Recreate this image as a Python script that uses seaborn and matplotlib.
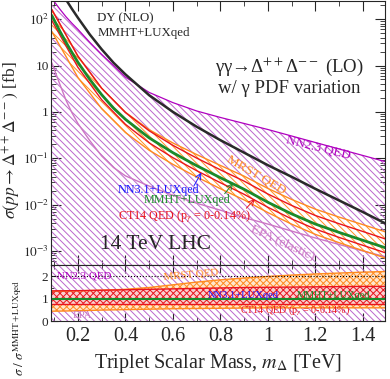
import numpy as np
import pandas as pd
import seaborn as sns
import matplotlib.pyplot as plt
from matplotlib.ticker import MultipleLocator, LogLocator, NullFormatter, FixedLocator

# ---- data ----
mass = [0.09, 0.1, 0.125, 0.15, 0.175, 0.2, 0.25, 0.3, 0.35, 0.4, 0.5, 0.6,
        0.7, 0.8, 0.9, 1.0, 1.1, 1.2, 1.3, 1.4, 1.5]
# log10(sigma / fb)
mmht_log = [2.08, 1.98, 1.73, 1.50, 1.28, 1.07, 0.70, 0.37, 0.08, -0.16, -0.56, -0.88,
            -1.16, -1.42, -1.67, -1.95, -2.20, -2.42, -2.60, -2.77, -2.94]
dy_log = [2.95, 2.85, 2.65, 2.42, 2.22, 2.03, 1.67, 1.35, 1.06, 0.81, 0.36, 0.0,
          -0.32, -0.61, -0.88, -1.15, -1.40, -1.66, -1.91, -2.16, -2.42]
nn23_up_log = [2.45, 2.38, 2.21, 2.05, 1.91, 1.78, 1.50, 1.24, 1.0, 0.75, 0.42, 0.2,
               0.02, -0.12, -0.25, -0.38, -0.52, -0.66, -0.80, -0.94, -1.08]
epa_log = [1.06, 0.92, 0.58, 0.25, -0.02, -0.25, -0.62, -0.95, -1.2, -1.38, -1.6, -1.8,
           -1.97, -2.12, -2.28, -2.42, -2.57, -2.72, -2.86, -3.0, -3.13]

# ratios to MMHT+LUXqed
rmass = [0.09, 0.2, 0.3, 0.4, 0.5, 0.6, 0.7, 0.8, 0.9, 1.0, 1.1, 1.2, 1.3, 1.4, 1.5]
mrst_lo = [0.45, 0.47, 0.5, 0.52, 0.54, 0.56, 0.57, 0.58, 0.59, 0.6, 0.6, 0.6, 0.6, 0.6, 0.6]
mrst_hi = [1.33, 1.35, 1.38, 1.42, 1.50, 1.62, 1.74, 1.84, 1.92, 1.99, 2.05, 2.10, 2.14, 2.18, 2.21]
ct14_lo = [0.78] * 15
ct14_hi = [1.35, 1.36, 1.38, 1.40, 1.42, 1.44, 1.46, 1.48, 1.50, 1.51, 1.52, 1.53, 1.54, 1.55, 1.55]
mmht_lo = [0.96] * 15
mmht_hi = [1.04] * 15

sns.set_style("ticks")
plt.rcParams['font.family'] = ['Liberation Serif', 'DejaVu Serif']
plt.rcParams['mathtext.fontset'] = 'stix'
plt.rcParams['hatch.linewidth'] = 0.7
plt.rcParams['xtick.direction'] = 'in'
plt.rcParams['ytick.direction'] = 'in'

PURPLE = '#b000c0'
HATCH_P = '#bb66cc'
ORANGE = '#ff8a1f'
RED = '#e8141e'
GREEN = '#1a8a2a'
BLUE = '#1a1aff'
PINK = '#cc77c4'

df = pd.DataFrame({'m': mass, 'mmht': np.power(10, mmht_log), 'dy': np.power(10, dy_log),
                   'nn23': np.power(10, nn23_up_log), 'epa': np.power(10, epa_log)})
rdf = pd.DataFrame({'m': rmass, 'mrst_lo': mrst_lo, 'mrst_hi': mrst_hi,
                    'ct14_lo': ct14_lo, 'ct14_hi': ct14_hi,
                    'mmht_lo': mmht_lo, 'mmht_hi': mmht_hi})
central_r = np.power(10, np.interp(rdf['m'], df['m'], mmht_log))
for k in ['mrst_lo', 'mrst_hi', 'ct14_lo', 'ct14_hi']:
    rdf[k + '_abs'] = rdf[k] * central_r

fig = plt.figure(figsize=(3.9, 3.79), dpi=100)
ax = fig.add_axes([0.131, 0.301, 0.856, 0.696])
axr = fig.add_axes([0.131, 0.152, 0.856, 0.149], sharex=ax)

# ---------- top panel ----------
ax.fill_between(df['m'], 1e-6, df['nn23'], facecolor='none', edgecolor=HATCH_P,
                hatch='\\\\\\\\\\', linewidth=0)
sns.lineplot(data=df, x='m', y='nn23', ax=ax, color=PURPLE, lw=0.9)
sns.lineplot(data=df, x='m', y='epa', ax=ax, color=PINK, lw=1.0)
ax.fill_between(rdf['m'], rdf['mrst_lo_abs'], rdf['mrst_hi_abs'], facecolor='white',
                edgecolor=ORANGE, hatch='\\\\\\\\\\', linewidth=0)
for k, c in [('mrst_lo_abs', ORANGE), ('mrst_hi_abs', ORANGE),
             ('ct14_lo_abs', RED), ('ct14_hi_abs', RED)]:
    sns.lineplot(data=rdf, x='m', y=k, ax=ax, color=c, lw=1.0)
sns.lineplot(data=df, x='m', y='mmht', ax=ax, color=GREEN, lw=2.0)
sns.lineplot(data=df, x='m', y='dy', ax=ax, color='#2a2a2a', lw=1.8)

ax.set_yscale('log')
ax.set_xlim(0.087, 1.493)
ax.set_ylim(5e-4, 245)
ax.yaxis.set_major_locator(FixedLocator([1e-3, 1e-2, 1e-1, 1, 10, 100]))
ax.set_yticklabels([r'$10^{-3}$', r'$10^{-2}$', r'$10^{-1}$', '1', '10', r'$10^{2}$'])
ax.yaxis.set_minor_locator(LogLocator(base=10, subs=np.arange(2, 10), numticks=20))
ax.yaxis.set_minor_formatter(NullFormatter())
ax.tick_params(axis='both', which='both', top=True, right=True, labelbottom=False)
ax.tick_params(axis='y', which='major', length=7, labelsize=9.5, pad=1.5)
ax.tick_params(axis='y', which='minor', length=3.5)
ax.tick_params(axis='x', which='major', length=7)
ax.tick_params(axis='x', which='minor', length=3.5)
ax.set_xlabel('')
ax.set_ylabel('')

ax.text(0.138, 0.936, 'DY (NLO)', transform=ax.transAxes, fontsize=9.3, va='center')
ax.text(0.138, 0.879, 'MMHT+LUXqed', transform=ax.transAxes, fontsize=9.3, va='center')
ax.text(0.713, 0.75, 'γγ→Δ$^{++}$Δ$^{--}$ (LO)', transform=ax.transAxes, fontsize=13.5,
        ha='center', va='center')
ax.text(0.713, 0.667, 'w/ γ PDF variation', transform=ax.transAxes, fontsize=13.5,
        ha='center', va='center')
ax.text(0.80, 0.443, 'NN2.3 QED', transform=ax.transAxes, fontsize=9.5, color=PURPLE,
        ha='center', va='center', rotation=-14)
ax.text(0.614, 0.34, 'MRST QED', transform=ax.transAxes, fontsize=9.5, color=ORANGE,
        ha='center', va='center', rotation=-30)
ax.text(0.20, 0.285, 'NN3.1+LUXqed', transform=ax.transAxes, fontsize=8.7, color=BLUE, va='center')
ax.text(0.278, 0.246, 'MMHT+LUXqed', transform=ax.transAxes, fontsize=8.7, color=GREEN, va='center')
ax.text(0.20, 0.182, 'CT14 QED (p$_{\\gamma}$ = 0-0.14%)', transform=ax.transAxes, fontsize=8.7,
        color=RED, va='center')
ax.text(0.147, 0.077, '14 TeV LHC', transform=ax.transAxes, fontsize=15.5, va='center')
ax.text(0.695, 0.085, 'EPA (elastic)', transform=ax.transAxes, fontsize=9.5, color=PINK,
        ha='center', va='center', rotation=-25)
for (x0, y0), (x1, y1), c in [((0.428, 0.30), (0.45, 0.35), BLUE),
                              ((0.52, 0.27), (0.545, 0.31), GREEN),
                              ((0.585, 0.215), (0.61, 0.25), RED)]:
    ax.annotate('', xy=(x1, y1), xytext=(x0, y0), xycoords='axes fraction',
                arrowprops=dict(arrowstyle='->', color=c, lw=0.7, shrinkA=0, shrinkB=0))

# ---------- ratio panel ----------
axr.fill_between([0.0, 2.0], 0, 3, facecolor='none', edgecolor=HATCH_P,
                 hatch='\\\\\\\\\\', linewidth=0)
axr.fill_between(rdf['m'], rdf['mrst_lo'], rdf['mrst_hi'], facecolor='#ffe6cc',
                 edgecolor=ORANGE, hatch='xxxxx', linewidth=0)
axr.fill_between(rdf['m'], rdf['ct14_lo'], rdf['ct14_hi'], facecolor='#fad0d0',
                 edgecolor=RED, hatch='xxxxx', linewidth=0)
for k, c in [('mrst_lo', ORANGE), ('mrst_hi', ORANGE), ('ct14_lo', RED), ('ct14_hi', RED)]:
    sns.lineplot(data=rdf, x='m', y=k, ax=axr, color=c, lw=1.0)
axr.fill_between(rdf['m'], rdf['mmht_lo'], rdf['mmht_hi'], color='#8fd08f', linewidth=0)
axr.axhline(1.0, color=GREEN, lw=1.5)
axr.axhline(2.0, color='black', lw=0.8, ls=':')

axr.set_ylim(0, 2.5)
axr.set_xlim(0.087, 1.493)
axr.xaxis.set_minor_locator(MultipleLocator(0.1))
axr.yaxis.set_major_locator(FixedLocator([0, 1, 2]))
axr.yaxis.set_minor_locator(MultipleLocator(0.5))
axr.set_xticks([0.2, 0.4, 0.6, 0.8, 1.0, 1.2, 1.4])
axr.set_xticklabels(['0.2', '0.4', '0.6', '0.8', '1', '1.2', '1.4'])
axr.tick_params(axis='both', which='both', top=True, right=True)
axr.tick_params(axis='x', which='major', labelsize=14.5, length=6, pad=4)
axr.tick_params(axis='x', which='minor', length=3)
axr.tick_params(axis='y', which='major', labelsize=9.5, length=5, pad=2)
axr.tick_params(axis='y', which='minor', length=2.5)
axr.set_xlabel('Triplet Scalar Mass, $m_{\\Delta}$ [TeV]', fontsize=14.5, labelpad=4)
axr.set_ylabel('')

axr.text(0.018, 0.8, 'NN2.3 QED', transform=axr.transAxes, fontsize=7.8, color=PURPLE, va='center')
axr.text(0.335, 0.83, 'MRST QED', transform=axr.transAxes, fontsize=7.8, color=ORANGE,
         va='center', rotation=5)
axr.text(0.468, 0.46, 'NN3.1+LUXqed', transform=axr.transAxes, fontsize=7.6, color=BLUE, va='center')
axr.text(0.737, 0.46, 'MMHT+LUXqed', transform=axr.transAxes, fontsize=7.4, color=GREEN, va='center')
axr.text(0.566, 0.20, 'CT14 QED (p$_{\\gamma}$ = 0-0.14%)', transform=axr.transAxes, fontsize=7.2,
         color=RED, va='center')
axr.text(0.066, 0.11, 'EPA', transform=axr.transAxes, fontsize=7.8, color=PINK, va='center')

fig.text(0.03, 0.63, '$\\sigma(pp\\rightarrow\\Delta^{++}\\Delta^{--})$ [fb]', rotation=90,
         fontsize=12.5, ha='center', va='center')
fig.text(0.05, 0.135, '$\\sigma\\ /\\ \\sigma^{\\mathrm{MMHT+LUXqed}}$', rotation=90,
         fontsize=9.5, ha='center', va='center')

fig.savefig('out.png', dpi=100)
